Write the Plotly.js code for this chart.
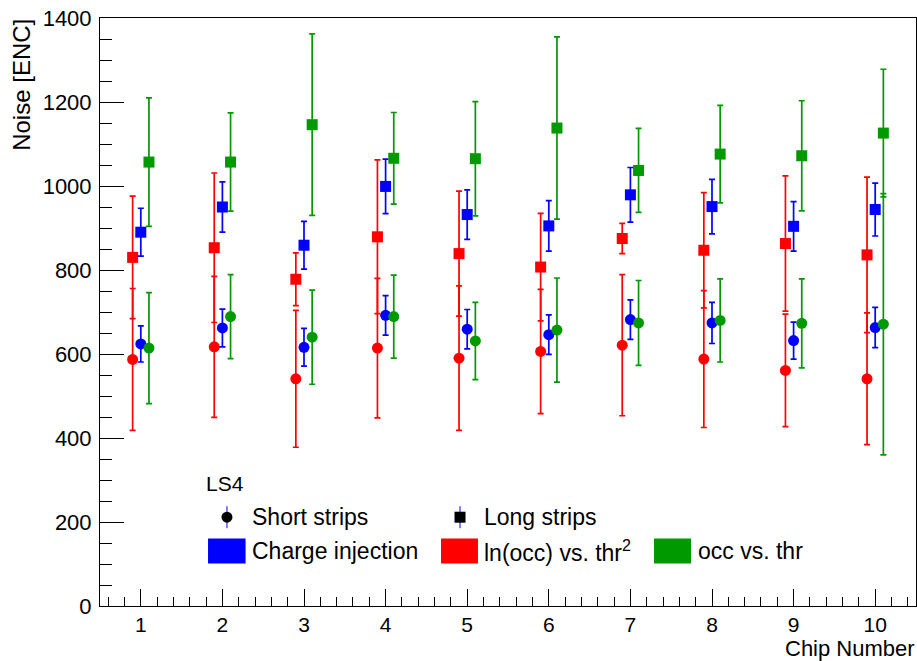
<!DOCTYPE html>
<html>
<head>
<meta charset="utf-8">
<script src="https://cdn.plot.ly/plotly-3.0.1.min.js"></script>
<style>
  html, body { margin: 0; padding: 0; background: #ffffff; }
  #chart { width: 917px; height: 661px; }
</style>
</head>
<body>
<div id="chart"></div>
<script>
// ---- data ----
const chips = [1, 2, 3, 4, 5, 6, 7, 8, 9, 10];
const xTickLabels = ["1", "2", "3", "4", "5", "6", "7", "8", "9", "10"];

// Short strips (circles)
const ciShort      = [624, 662, 616, 692, 659, 646, 682, 674, 632, 663];
const ciShortErr   = [43, 45, 45, 47, 47, 47, 47, 49, 44, 48];
const lnShort      = [587, 617, 541, 614, 590, 606, 621, 588, 561, 541];
const lnShortErr   = [169, 168, 163, 166, 172, 148, 168, 163, 134, 157];
const occShort     = [614, 689, 640, 689, 631, 657, 674, 680, 673, 671];
const occShortErr  = [132, 100, 112, 99, 92, 124, 101, 99, 106, 311];

// Long strips (squares)
const ciLong       = [890, 950, 859, 999, 932, 905, 979, 951, 904, 944];
const ciLongErr    = [57, 60, 57, 65, 59, 60, 65, 65, 59, 63];
const lnLong       = [830, 853, 778, 879, 839, 807, 875, 847, 863, 836];
const lnLongErr    = [146, 178, 63, 183, 149, 128, 36, 137, 161, 185];
const occLong      = [1057, 1057, 1146, 1066, 1065, 1138, 1037, 1076, 1072, 1126];
const occLongErr   = [153, 117, 216, 109, 136, 217, 100, 116, 131, 152];

const methodNames = ["Charge injection", "ln(occ) vs. thr<sup>2</sup>", "occ vs. thr"];
const stripNames = ["Short strips", "Long strips"];
const legendTitle = "LS4";

// ---- style ----
const BLUE = "#0000ff", RED = "#ff0000", GREEN = "#009900";
const FONT = "Liberation Sans, Arial, Helvetica, sans-serif";
const offsets = { red: -0.1, blue: 0.0, green: 0.1 };

function mk(yvals, errs, color, symbol, off) {
  return {
    type: "scatter",
    mode: "markers",
    x: chips.map(c => c + off),
    y: yvals,
    error_y: { type: "data", array: errs, visible: true, color: color, thickness: 1.7, width: 3 },
    marker: { color: color, symbol: symbol, size: 11, line: { width: 0 } },
    showlegend: false,
    hoverinfo: "x+y"
  };
}

const traces = [
  mk(lnShort, lnShortErr, RED, "circle", offsets.red),
  mk(ciShort, ciShortErr, BLUE, "circle", offsets.blue),
  mk(occShort, occShortErr, GREEN, "circle", offsets.green),
  mk(lnLong, lnLongErr, RED, "square", offsets.red),
  mk(ciLong, ciLongErr, BLUE, "square", offsets.blue),
  mk(occLong, occLongErr, GREEN, "square", offsets.green)
];

// legend geometry in paper coordinates
const rowY = { title: 0.209, strips: 0.151, methods: 0.0935 };
const boxH = 0.0213;
const boxes = [
  { x0: 0.1324, x1: 0.1784, color: BLUE, tx: 0.1835 },
  { x0: 0.4179, x1: 0.4632, color: RED, tx: 0.4683 },
  { x0: 0.6789, x1: 0.7243, color: GREEN, tx: 0.7306 }
];
const stripMarks = [
  { cx: 0.1556, tx: 0.1835, kind: "circle" },
  { cx: 0.4412, tx: 0.4683, kind: "square" }
];

const shapes = [];
const annotations = [];

boxes.forEach((b, i) => {
  shapes.push({ type: "rect", xref: "paper", yref: "paper", x0: b.x0, x1: b.x1,
    y0: rowY.methods - boxH, y1: rowY.methods + boxH, fillcolor: b.color, line: { width: 0 } });
  annotations.push({ xref: "paper", yref: "paper", x: b.tx, y: rowY.methods, xanchor: "left", yanchor: "middle",
    text: methodNames[i], showarrow: false, font: { family: FONT, size: 23, color: "#000" } });
});

const rx = 5.5 / 816, ry = 5.5 / 588;
stripMarks.forEach((s, i) => {
  shapes.push({ type: "line", xref: "paper", yref: "paper", x0: s.cx, x1: s.cx,
    y0: rowY.strips - 11 / 588, y1: rowY.strips + 11 / 588, line: { color: BLUE, width: 1 } });
  shapes.push({ type: s.kind === "circle" ? "circle" : "rect", xref: "paper", yref: "paper",
    x0: s.cx - rx, x1: s.cx + rx, y0: rowY.strips - ry, y1: rowY.strips + ry,
    fillcolor: "#000", line: { width: 0 } });
  annotations.push({ xref: "paper", yref: "paper", x: s.tx, y: rowY.strips, xanchor: "left", yanchor: "middle",
    text: stripNames[i], showarrow: false, font: { family: FONT, size: 23, color: "#000" } });
});

annotations.push({ xref: "paper", yref: "paper", x: 0.1275, y: rowY.title, xanchor: "left", yanchor: "middle",
  text: legendTitle, showarrow: false, font: { family: FONT, size: 21, color: "#000" } });

// axis titles (ROOT style: aligned at the axis end)
annotations.push({ xref: "paper", yref: "paper", x: 1, y: -0.0723, xanchor: "right", yanchor: "middle",
  borderpad: 0, text: "Chip Number", showarrow: false, font: { family: FONT, size: 22, color: "#000" } });
annotations.push({ xref: "paper", yref: "paper", x: -0.0956, y: 1.002, xanchor: "center", yanchor: "top",
  textangle: -90, text: "Noise [ENC]", showarrow: false, font: { family: FONT, size: 24, color: "#000" } });

const layout = {
  width: 917, height: 661,
  margin: { l: 100, r: 1, t: 18, b: 55, pad: 0 },
  paper_bgcolor: "#ffffff", plot_bgcolor: "#ffffff",
  showlegend: false,
  font: { family: FONT, size: 21, color: "#000" },
  xaxis: {
    range: [0.5, 10.5],
    tickmode: "array", tickvals: chips, ticktext: xTickLabels,
    ticks: "inside", ticklen: 17, tickwidth: 1, tickcolor: "#000",
    minor: { dtick: 0.2, tick0: 0, ticks: "inside", ticklen: 9, tickwidth: 1, tickcolor: "#000" },
    showgrid: false, zeroline: false,
    showline: true, linecolor: "#000", linewidth: 1, mirror: true,
    tickfont: { family: FONT, size: 21, color: "#000" }
  },
  yaxis: {
    range: [0, 1400],
    dtick: 200, tick0: 0,
    ticks: "inside", ticklen: 24, tickwidth: 1, tickcolor: "#000",
    minor: { dtick: 50, ticks: "inside", ticklen: 12, tickwidth: 1, tickcolor: "#000" },
    showgrid: false, zeroline: false,
    showline: true, linecolor: "#000", linewidth: 1, mirror: true,
    ticklabelstandoff: 3,
    tickfont: { family: FONT, size: 22, color: "#000" }
  },
  shapes: shapes,
  annotations: annotations
};

Plotly.newPlot("chart", traces, layout, { staticPlot: true, displayModeBar: false });
</script>
</body>
</html>
